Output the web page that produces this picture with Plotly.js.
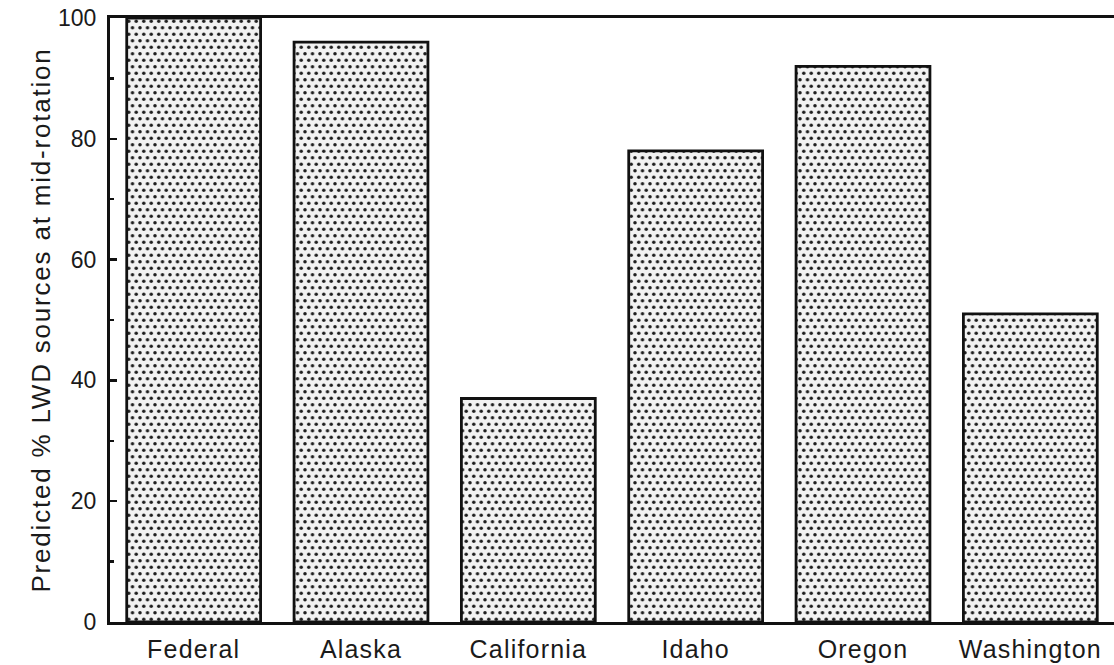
<!DOCTYPE html>
<html>
<head>
<meta charset="utf-8">
<script src="https://cdn.plot.ly/plotly-3.0.1.min.js"></script>
<style>
html,body{margin:0;padding:0;background:#fff;}
#chart{width:1114px;height:665px;}
#chart .ytitle{letter-spacing:1.8px;}
#chart .xtick text{letter-spacing:1.2px;}
</style>
</head>
<body>
<div id="chart"></div>
<script>
var categories = ["Federal", "Alaska", "California", "Idaho", "Oregon", "Washington"];
var values = [100, 96, 37, 78, 92, 51];
var yTickVals = [0, 20, 40, 60, 80, 100];
var yTitle = "Predicted % LWD sources at mid-rotation";

var trace = {
  type: "bar",
  x: categories,
  y: values,
  marker: {
    color: "#ffffff",
    line: {color: "#111111", width: 2.8},
    pattern: {shape: ".", fgcolor: "#1e1e1e", bgcolor: "#f2f2f2", size: 8, solidity: 0.1}
  },
  hoverinfo: "x+y"
};

var layout = {
  width: 1114, height: 665,
  margin: {l: 110, r: 0, t: 18, b: 43},
  paper_bgcolor: "#ffffff",
  plot_bgcolor: "#ffffff",
  bargap: 0.2,
  showlegend: false,
  font: {family: "Liberation Sans, Arial, sans-serif", color: "#1a1a1a"},
  xaxis: {
    showline: true, linecolor: "#111111", linewidth: 3,
    mirror: true, ticks: "", showgrid: false,
    tickfont: {size: 25, color: "#1a1a1a"},
    ticklabelstandoff: 3
  },
  yaxis: {
    range: [0, 100], showline: true, linecolor: "#111111", linewidth: 3,
    showgrid: false, zeroline: false,
    tickvals: yTickVals, ticks: "inside", ticklen: 7, tickwidth: 2.5, tickcolor: "#111111",
    minor: {dtick: 10, ticks: "inside", ticklen: 4, tickwidth: 2.5, tickcolor: "#111111"},
    tickfont: {size: 23, color: "#1a1a1a"},
    ticklabelstandoff: 6,
    title: {text: yTitle, font: {size: 26, color: "#1a1a1a"}, standoff: 0}
  }
};

Plotly.newPlot("chart", [trace], layout, {displayModeBar: false, staticPlot: true}).then(function () {
  // turn the square dot grid into a staggered (hexagonal) dot screen
  var W = 7.5, H = 13, R = 1.7;
  document.querySelectorAll("#chart pattern").forEach(function (p) {
    var ns = "http://www.w3.org/2000/svg";
    var fg = "#1e1e1e";
    var old = p.querySelector("circle");
    if (old && old.getAttribute("fill")) fg = old.getAttribute("fill");
    p.setAttribute("width", W);
    p.setAttribute("height", H);
    p.querySelectorAll("rect").forEach(function (r) { r.setAttribute("width", W); r.setAttribute("height", H); });
    p.querySelectorAll("circle").forEach(function (c) { c.remove(); });
    [[W / 2, H / 4], [0, 3 * H / 4], [W, 3 * H / 4]].forEach(function (pt) {
      var c = document.createElementNS(ns, "circle");
      c.setAttribute("cx", pt[0]); c.setAttribute("cy", pt[1]); c.setAttribute("r", R);
      c.setAttribute("fill", fg);
      p.appendChild(c);
    });
  });
});
</script>
</body>
</html>
